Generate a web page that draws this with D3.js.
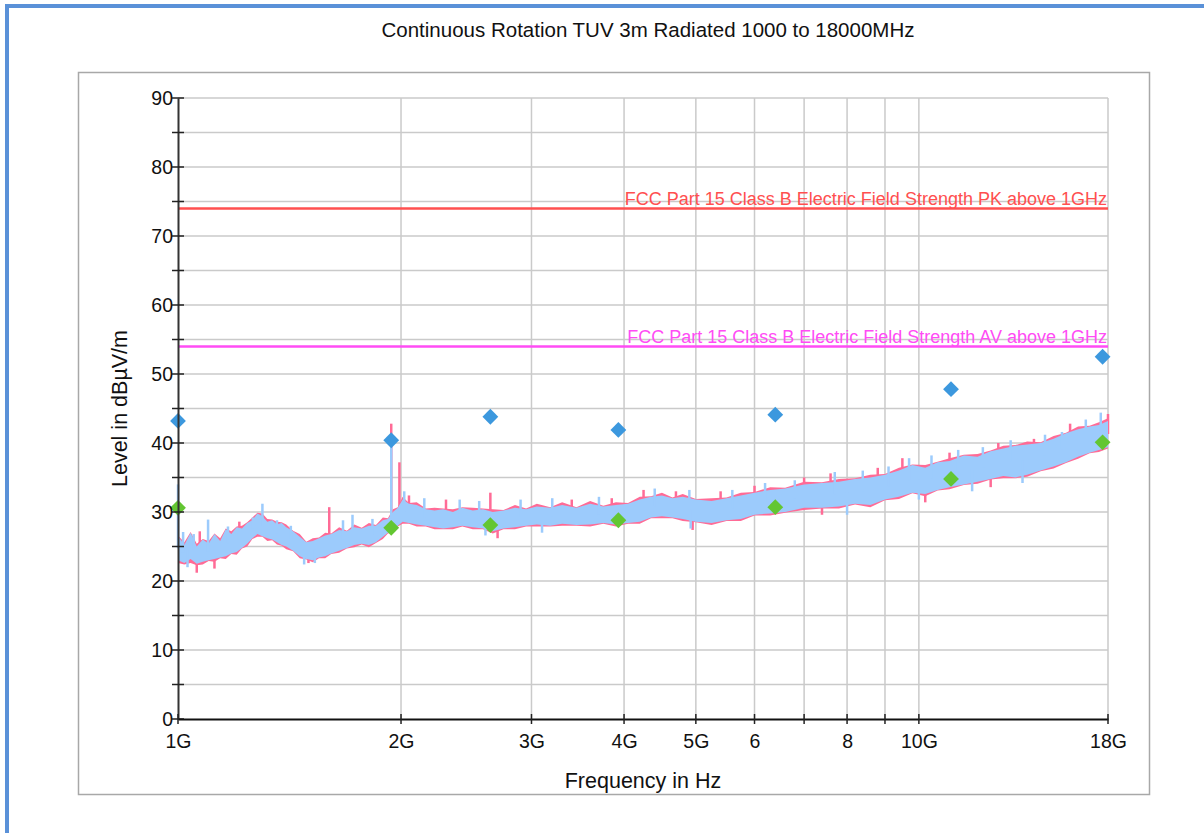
<!DOCTYPE html>
<html>
<head>
<meta charset="utf-8">
<script src="https://cdn.jsdelivr.net/npm/d3@7"></script>
<style>
    body { margin: 0; background: #fff; }
    svg { display: block; font-family: "Liberation Sans", Arial, sans-serif; }
</style>
</head>
<body>
<svg id="chart"></svg>
<script>
// Titel und Achsen
const chartTitle = "Continuous Rotation TUV 3m Radiated 1000 to 18000MHz";
const xLabel = "Frequency in Hz";
const yLabel = "Level in dBµV/m";

const xTickValues = [1, 2, 3, 4, 5, 6, 7, 8, 9, 10, 18];
const xTickLabels = ["1G", "2G", "3G", "4G", "5G", "6", "", "8", "", "10G", "18G"];
const yTickValues = [0, 10, 20, 30, 40, 50, 60, 70, 80, 90];
const yMinorValues = [5, 15, 25, 35, 45, 55, 65, 75, 85];

// Grenzwerte
const limitNames = [
    "FCC Part 15 Class B Electric Field Strength PK above 1GHz",
    "FCC Part 15 Class B Electric Field Strength AV above 1GHz"
];
const limitLevels = [74, 54];

// Messkurve (Hüllkurve) in GHz / dBµV/m
const traceFreq = [1.00, 1.02, 1.04, 1.06, 1.08, 1.10, 1.12, 1.14, 1.16, 1.18, 1.20, 1.22, 1.24, 1.26, 1.28, 1.30,
    1.32, 1.34, 1.36, 1.38, 1.40, 1.43, 1.46, 1.49, 1.52, 1.55, 1.58, 1.61, 1.65, 1.69, 1.73, 1.77, 1.81, 1.85,
    1.89, 1.92, 1.95, 1.98, 2.01, 2.05, 2.10, 2.16, 2.22, 2.28, 2.35, 2.42, 2.50, 2.58, 2.66, 2.75, 2.85, 2.95,
    3.05, 3.18, 3.30, 3.45, 3.60, 3.75, 3.90, 4.05, 4.20, 4.35, 4.50, 4.65, 4.80, 5.00, 5.25, 5.50, 5.75, 6.00,
    6.30, 6.60, 7.00, 7.40, 7.80, 8.20, 8.60, 9.00, 9.40, 9.80, 10.2, 10.6, 11.0, 11.5, 12.0, 12.5, 13.0, 13.5,
    14.0, 14.6, 15.2, 15.8, 16.4, 17.0, 17.5, 18.0];
const blueLow = [23.0, 22.6, 23.2, 22.5, 22.8, 23.0, 23.2, 23.4, 23.6, 24.0, 24.2, 24.8, 25.4, 26.2, 26.8, 26.5,
    26.2, 26.0, 25.6, 25.2, 25.0, 24.4, 23.6, 23.2, 23.0, 23.4, 23.6, 24.0, 24.4, 24.8, 25.2, 25.4, 25.2, 25.6,
    26.4, 27.0, 27.4, 28.0, 28.6, 28.4, 28.2, 28.0, 27.8, 27.6, 27.8, 28.0, 27.8, 27.6, 27.2, 27.6, 27.8, 28.0,
    28.2, 28.0, 28.3, 28.1, 28.2, 28.4, 28.2, 28.4, 28.6, 29.2, 29.4, 29.2, 29.0, 28.6, 28.4, 28.8, 29.0, 29.6,
    29.8, 30.0, 30.6, 30.6, 30.8, 31.2, 31.0, 31.8, 32.2, 32.8, 32.6, 33.2, 33.6, 34.0, 34.4, 34.8, 35.2, 35.0,
    35.4, 36.0, 36.6, 37.2, 38.0, 38.6, 39.0, 39.4];
const blueHigh = [26.5, 25.2, 27.0, 25.0, 26.0, 25.4, 26.8, 25.8, 27.5, 26.8, 27.8, 27.6, 28.4, 28.8, 29.8, 29.4,
    28.6, 28.8, 28.2, 28.4, 27.8, 27.2, 26.4, 25.6, 25.8, 26.2, 26.6, 26.8, 27.4, 27.2, 27.8, 27.6, 28.0, 28.0,
    28.8, 29.0, 30.0, 30.6, 31.8, 31.2, 31.0, 30.4, 30.2, 30.4, 30.0, 30.6, 30.2, 30.4, 30.0, 30.2, 30.6, 30.4,
    30.8, 30.6, 31.0, 30.6, 31.2, 30.8, 31.0, 31.2, 31.8, 32.2, 32.4, 32.0, 32.2, 31.8, 31.6, 32.0, 32.4, 32.8,
    33.2, 33.4, 34.0, 34.2, 34.4, 34.8, 35.0, 35.4, 36.0, 36.8, 36.4, 37.2, 37.4, 38.2, 38.0, 38.8, 39.2, 39.6,
    39.8, 40.0, 40.6, 41.4, 42.0, 42.4, 42.6, 43.2];
const pinkLow = [22.6, 22.4, 22.6, 22.3, 22.4, 22.9, 22.8, 23.3, 23.2, 23.9, 23.8, 24.7, 25.0, 26.1, 26.4, 26.4,
    25.8, 25.9, 25.3, 25.1, 24.6, 24.3, 23.3, 23.1, 22.7, 23.3, 23.3, 23.9, 24.1, 24.7, 24.9, 25.3, 24.9, 25.5,
    26.1, 26.9, 27.1, 27.9, 28.3, 28.3, 27.9, 27.9, 27.5, 27.5, 27.5, 27.9, 27.5, 27.5, 26.9, 27.5, 27.5, 27.9,
    27.9, 27.9, 28.0, 28.0, 27.9, 28.3, 27.9, 28.3, 28.3, 29.1, 29.1, 29.1, 28.7, 28.5, 28.1, 28.7, 28.7, 29.5,
    29.5, 29.9, 30.3, 30.5, 30.5, 31.1, 30.7, 31.7, 31.9, 32.7, 32.3, 33.1, 33.3, 33.9, 34.1, 34.7, 34.9, 34.9,
    35.1, 35.9, 36.3, 37.1, 37.7, 38.5, 38.7, 39.2];
const pinkHigh = [26.6, 25.6, 27.1, 25.4, 26.1, 25.8, 26.9, 26.2, 27.6, 27.2, 27.9, 28.0, 28.5, 29.2, 29.9, 29.8,
    29.0, 28.9, 28.6, 28.5, 28.2, 27.3, 26.8, 25.7, 26.2, 26.3, 27.0, 26.9, 27.8, 27.3, 28.2, 27.7, 28.4, 28.1,
    29.2, 29.1, 30.4, 30.7, 32.2, 31.3, 31.4, 30.5, 30.6, 30.5, 30.4, 30.7, 30.6, 30.5, 30.4, 30.3, 31.0, 30.5,
    31.2, 30.7, 31.4, 30.7, 31.6, 30.9, 31.4, 31.3, 32.2, 32.3, 32.8, 32.1, 32.6, 31.9, 32.0, 32.1, 32.8, 32.9,
    33.6, 33.5, 34.4, 34.3, 34.8, 34.9, 35.4, 35.5, 36.4, 36.9, 36.8, 37.3, 37.8, 38.3, 38.4, 38.9, 39.6, 39.7,
    40.2, 40.1, 41.0, 41.5, 42.4, 42.5, 43.0, 43.6];

// Einzelne Spitzen der Messkurve (nach oben und unten)
const pinkSpikeFreq = [1.06, 1.07, 1.12, 1.21, 1.50, 1.60, 1.94, 1.99, 2.05, 2.30, 2.64, 2.70, 3.40, 3.85, 4.25,
    4.70, 4.95, 5.40, 6.00, 7.00, 7.40, 7.60, 8.80, 9.50, 10.2, 11.0, 12.5, 12.8, 14.3, 16.0, 18.0];
const pinkSpikeLevel = [21.2, 27.2, 21.8, 28.6, 22.6, 30.7, 42.8, 37.2, 32.4, 31.8, 32.8, 26.2, 31.8, 32.0, 33.2,
    33.0, 27.4, 33.0, 33.8, 35.0, 29.6, 35.6, 36.4, 37.8, 31.4, 38.6, 33.6, 40.0, 40.6, 42.8, 44.2];
const blueSpikeFreq = [1.00, 1.016, 1.03, 1.05, 1.098, 1.168, 1.262, 1.30, 1.36, 1.42, 1.48, 1.53, 1.67, 1.72,
    1.83, 1.94, 2.02, 2.15, 2.40, 2.55, 2.60, 2.90, 3.10, 3.20, 3.70, 4.40, 4.90, 4.92, 5.60, 6.20, 6.80, 7.70,
    8.00, 8.40, 9.10, 9.70, 10.0, 10.4, 11.3, 11.8, 12.2, 13.3, 13.8, 14.8, 15.6, 16.8, 17.6];
const blueSpikeLevel = [34.0, 27.1, 22.0, 26.8, 28.9, 27.9, 29.2, 31.2, 28.8, 28.0, 22.4, 22.6, 28.8, 29.6,
    29.0, 39.5, 33.0, 32.0, 31.8, 31.6, 26.6, 31.8, 27.0, 32.0, 32.2, 33.4, 33.2, 27.6, 33.2, 34.2, 34.6, 35.8,
    29.6, 36.0, 36.6, 37.8, 31.8, 38.2, 39.0, 33.0, 39.4, 40.4, 34.2, 41.2, 41.6, 43.4, 44.4];

// Endmessung: Peak (blau) und Average (grün)
const finalFreq = [1.00, 1.94, 2.64, 3.93, 6.40, 11.05, 17.7];
const finalPeak = [43.2, 40.4, 43.8, 41.9, 44.1, 47.8, 52.5];
const finalAvg = [30.6, 27.7, 28.1, 28.8, 30.7, 34.8, 40.1];

const width = 1204;
const height = 833;
const margin = { left: 178, top: 98, right: 96, bottom: 114 };
const plotW = width - margin.left - margin.right;
const plotH = height - margin.top - margin.bottom;
const font = "Liberation Sans, Arial, sans-serif";

const root = d3.select("#chart")
    .attr("width", width)
    .attr("height", height);

// Blauer Seitenrahmen
root.append("rect")
    .attr("x", 7).attr("y", 6)
    .attr("width", width + 20).attr("height", height + 20)
    .attr("fill", "none")
    .attr("stroke", "#5a91d8")
    .attr("stroke-width", 4);

// Diagrammfläche
root.append("rect")
    .attr("x", 78.5).attr("y", 72.5)
    .attr("width", 1071).attr("height", 722)
    .attr("fill", "#fff")
    .attr("stroke", "#a8a8a8")
    .attr("stroke-width", 1.5);

root.append("text")
    .attr("x", 648).attr("y", 37)
    .attr("text-anchor", "middle")
    .attr("font-size", 20.5)
    .attr("fill", "#111")
    .text(chartTitle);

const svg = root.append("g")
    .attr("transform", `translate(${margin.left}, ${margin.top})`);

// Skalen
const xScale = d3.scaleLog().domain([1, 18]).range([0, plotW]);
const yScale = d3.scaleLinear().domain([0, 90]).range([plotH, 0]);

// Gitter
svg.append("g").selectAll("line")
    .data(yTickValues.concat(yMinorValues).filter(v => v > 0))
    .join("line")
        .attr("x1", 0).attr("x2", plotW)
        .attr("y1", d => yScale(d)).attr("y2", d => yScale(d))
        .attr("stroke", "#cacaca").attr("stroke-width", 1.5);

svg.append("g").selectAll("line")
    .data(xTickValues.slice(1))
    .join("line")
        .attr("x1", d => xScale(d)).attr("x2", d => xScale(d))
        .attr("y1", 0).attr("y2", plotH)
        .attr("stroke", "#cacaca").attr("stroke-width", 1.5);

// Messkurven als Bänder
const trace = traceFreq.map((f, i) => ({
    f: f, bLo: blueLow[i], bHi: blueHigh[i], pLo: pinkLow[i], pHi: pinkHigh[i]
}));

// Mitte des Bandes für den Fußpunkt der Spitzen
const bandMid = d3.scaleLog()
    .domain(traceFreq)
    .range(traceFreq.map((f, i) => (blueLow[i] + blueHigh[i]) / 2));

svg.append("path")
    .datum(trace)
    .attr("fill", "#ff6b96")
    .attr("d", d3.area()
        .x(d => xScale(d.f))
        .y0(d => yScale(d.pLo))
        .y1(d => yScale(d.pHi)));

svg.append("g").selectAll("line")
    .data(pinkSpikeFreq)
    .join("line")
        .attr("x1", d => xScale(d)).attr("x2", d => xScale(d))
        .attr("y1", (d, i) => yScale(pinkSpikeLevel[i]))
        .attr("y2", d => yScale(bandMid(d)))
        .attr("stroke", "#ff6b96").attr("stroke-width", 2.5);

svg.append("path")
    .datum(trace)
    .attr("fill", "#9ccbfc")
    .attr("d", d3.area()
        .x(d => xScale(d.f))
        .y0(d => yScale(d.bLo))
        .y1(d => yScale(d.bHi)));

svg.append("g").selectAll("line")
    .data(blueSpikeFreq)
    .join("line")
        .attr("x1", d => xScale(d)).attr("x2", d => xScale(d))
        .attr("y1", (d, i) => yScale(blueSpikeLevel[i]))
        .attr("y2", d => yScale(bandMid(d)))
        .attr("stroke", "#9ccbfc").attr("stroke-width", 2.5);

// Grenzwertlinien
const limitColors = ["#ff4f4f", "#ff4cf5"];
limitLevels.forEach((lvl, i) => {
    svg.append("line")
        .attr("x1", 0).attr("x2", plotW)
        .attr("y1", yScale(lvl)).attr("y2", yScale(lvl))
        .attr("stroke", limitColors[i]).attr("stroke-width", 2.5);
    svg.append("text")
        .attr("x", plotW - 1)
        .attr("y", yScale(lvl) - 3)
        .attr("text-anchor", "end")
        .attr("font-size", 18)
        .attr("fill", limitColors[i])
        .text(limitNames[i]);
});

// Marker
const diamond = d3.symbol().type(d3.symbolSquare).size(125);
svg.append("g").selectAll("path")
    .data(finalFreq)
    .join("path")
        .attr("d", diamond)
        .attr("transform", (d, i) => `translate(${xScale(d)}, ${yScale(finalAvg[i])}) rotate(45)`)
        .attr("fill", "#63c632");
svg.append("g").selectAll("path")
    .data(finalFreq)
    .join("path")
        .attr("d", diamond)
        .attr("transform", (d, i) => `translate(${xScale(d)}, ${yScale(finalPeak[i])}) rotate(45)`)
        .attr("fill", "#3c98de");

// Achsen
const yAxis = svg.append("g")
    .call(d3.axisLeft(yScale).tickValues(yTickValues).tickSize(0).tickPadding(5));
yAxis.select(".domain").attr("stroke", "#333").attr("stroke-width", 2);
yAxis.selectAll("text").attr("font-size", 19.5).attr("fill", "#111").attr("font-family", font);

svg.append("g").selectAll("line")
    .data(yTickValues.concat(yMinorValues))
    .join("line")
        .attr("x1", -6).attr("x2", 6)
        .attr("y1", d => yScale(d)).attr("y2", d => yScale(d))
        .attr("stroke", "#222").attr("stroke-width", 1.5);

const xAxis = svg.append("g")
    .attr("transform", `translate(0, ${plotH})`)
    .call(d3.axisBottom(xScale).tickValues(xTickValues)
        .tickFormat((d, i) => xTickLabels[i]).tickSize(0).tickPadding(15));
xAxis.select(".domain").attr("stroke", "#111").attr("stroke-width", 2);
xAxis.selectAll("text").attr("font-size", 19.5).attr("fill", "#111").attr("font-family", font);

svg.append("g").selectAll("line")
    .data(xTickValues)
    .join("line")
        .attr("x1", d => xScale(d)).attr("x2", d => xScale(d))
        .attr("y1", plotH - 5).attr("y2", plotH + 5)
        .attr("stroke", "#222").attr("stroke-width", 1.5);

// Achsenbeschriftungen
svg.append("text")
    .attr("x", xScale(Math.sqrt(18)))
    .attr("y", plotH + 69)
    .attr("text-anchor", "middle")
    .attr("font-size", 21.5)
    .attr("fill", "#111")
    .text(xLabel);

svg.append("text")
    .attr("transform", "rotate(-90)")
    .attr("x", -plotH / 2)
    .attr("y", -51)
    .attr("text-anchor", "middle")
    .attr("font-size", 21.5)
    .attr("fill", "#111")
    .text(yLabel);
</script>
</body>
</html>
